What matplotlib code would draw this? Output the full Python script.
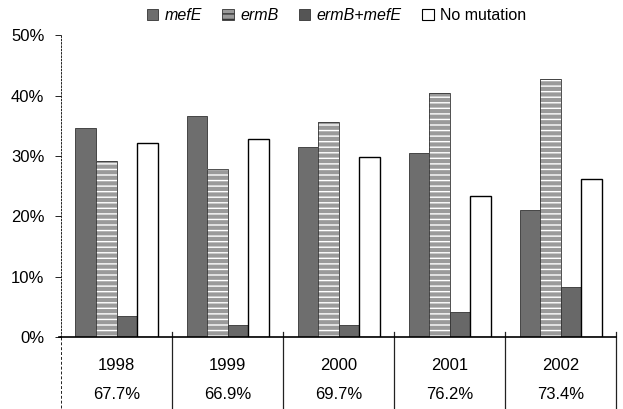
import numpy as np
import matplotlib.pyplot as plt
from matplotlib.patches import Patch
import matplotlib.transforms as mtransforms

plt.rcParams['font.family'] = ['Liberation Sans', 'DejaVu Sans']

# Frequenze dei meccanismi di resistenza per anno
anni = ['1998', '1999', '2000', '2001', '2002']
resistenza = ['67.7%', '66.9%', '69.7%', '76.2%', '73.4%']
mefE = [34.6, 36.6, 31.5, 30.4, 21.1]
ermB = [29.2, 27.9, 35.6, 40.5, 42.8]
ermB_mefE = [3.5, 2.0, 2.0, 4.2, 8.3]
nessuna = [32.2, 32.8, 29.9, 23.4, 26.1]

serie = ['mefE', 'ermB', 'ermB+mefE', 'No mutation']

fig = plt.figure(figsize=(6.23, 4.09), dpi=100)
ax = fig.add_axes([0.098, 0.176, 0.891, 0.738])

x = np.arange(len(anni))
w = 0.185

# mefE: grigio scuro
ax.bar(x - 1.5*w, mefE, w, color='#6e6e6e', edgecolor='#333333', linewidth=0.6)
# ermB: grigio chiaro con righe orizzontali bianche
ax.bar(x - 0.5*w, ermB, w, color='#9a9a9a', edgecolor='white', linewidth=0, hatch='---')
ax.bar(x - 0.5*w, ermB, w, fill=False, edgecolor='#333333', linewidth=0.6)
# ermB+mefE
ax.bar(x + 0.5*w, ermB_mefE, w, color='#686868', edgecolor='#333333', linewidth=0.6)
# nessuna mutazione
ax.bar(x + 1.5*w, nessuna, w, color='white', edgecolor='black', linewidth=1.0)

ax.set_xlim(-0.5, 4.5)
ax.set_ylim(0, 50)
ax.set_yticks(np.arange(0, 51, 10))
ax.set_yticklabels(['%d%%' % v for v in range(0, 51, 10)], fontsize=12)
ax.set_xticks([])
ax.tick_params(axis='y', direction='out', length=4, width=0.6, pad=8)

ax.spines['top'].set_visible(False)
ax.spines['right'].set_visible(False)
ax.spines['left'].set_linestyle((0, (2, 2)))
ax.spines['left'].set_linewidth(0.6)
ax.spines['bottom'].set_linewidth(1.2)

# tabella sotto l'asse
trans = mtransforms.blended_transform_factory(ax.transData, ax.transAxes)
for i in range(len(anni)):
    ax.text(i, -0.096, anni[i], transform=trans, ha='center', va='center', fontsize=12)
    ax.text(i, -0.192, resistenza[i], transform=trans, ha='center', va='center', fontsize=12)
for xs in np.arange(0.5, 5, 1.0):
    ax.plot([xs, xs], [0.017, -0.24], transform=trans, color='#222222', lw=0.9, clip_on=False)
ax.plot([-0.5, -0.5], [0, -0.24], transform=trans, color='#222222', lw=0.7,
        ls=(0, (3, 2)), clip_on=False)
ax.plot([-0.515, -0.5], [0, 0], transform=trans, color='black', lw=1.2, clip_on=False)

# legenda
handles = [
    Patch(facecolor='#6e6e6e', edgecolor='#333333', linewidth=0.6),
    Patch(facecolor='#9a9a9a', edgecolor='#333333', linewidth=0.6, hatch='---'),
    Patch(facecolor='#555555', edgecolor='#333333', linewidth=0.6),
    Patch(facecolor='white', edgecolor='black', linewidth=0.8),
]
leg = fig.legend(handles, serie, loc='upper center', bbox_to_anchor=(0.54, 1.015), ncol=4,
                 frameon=False, fontsize=11.5, handlelength=0.7, handleheight=0.7,
                 handletextpad=0.4, columnspacing=1.3)
for t in leg.get_texts()[:3]:
    t.set_style('italic')

plt.savefig('out.png', dpi=100)
